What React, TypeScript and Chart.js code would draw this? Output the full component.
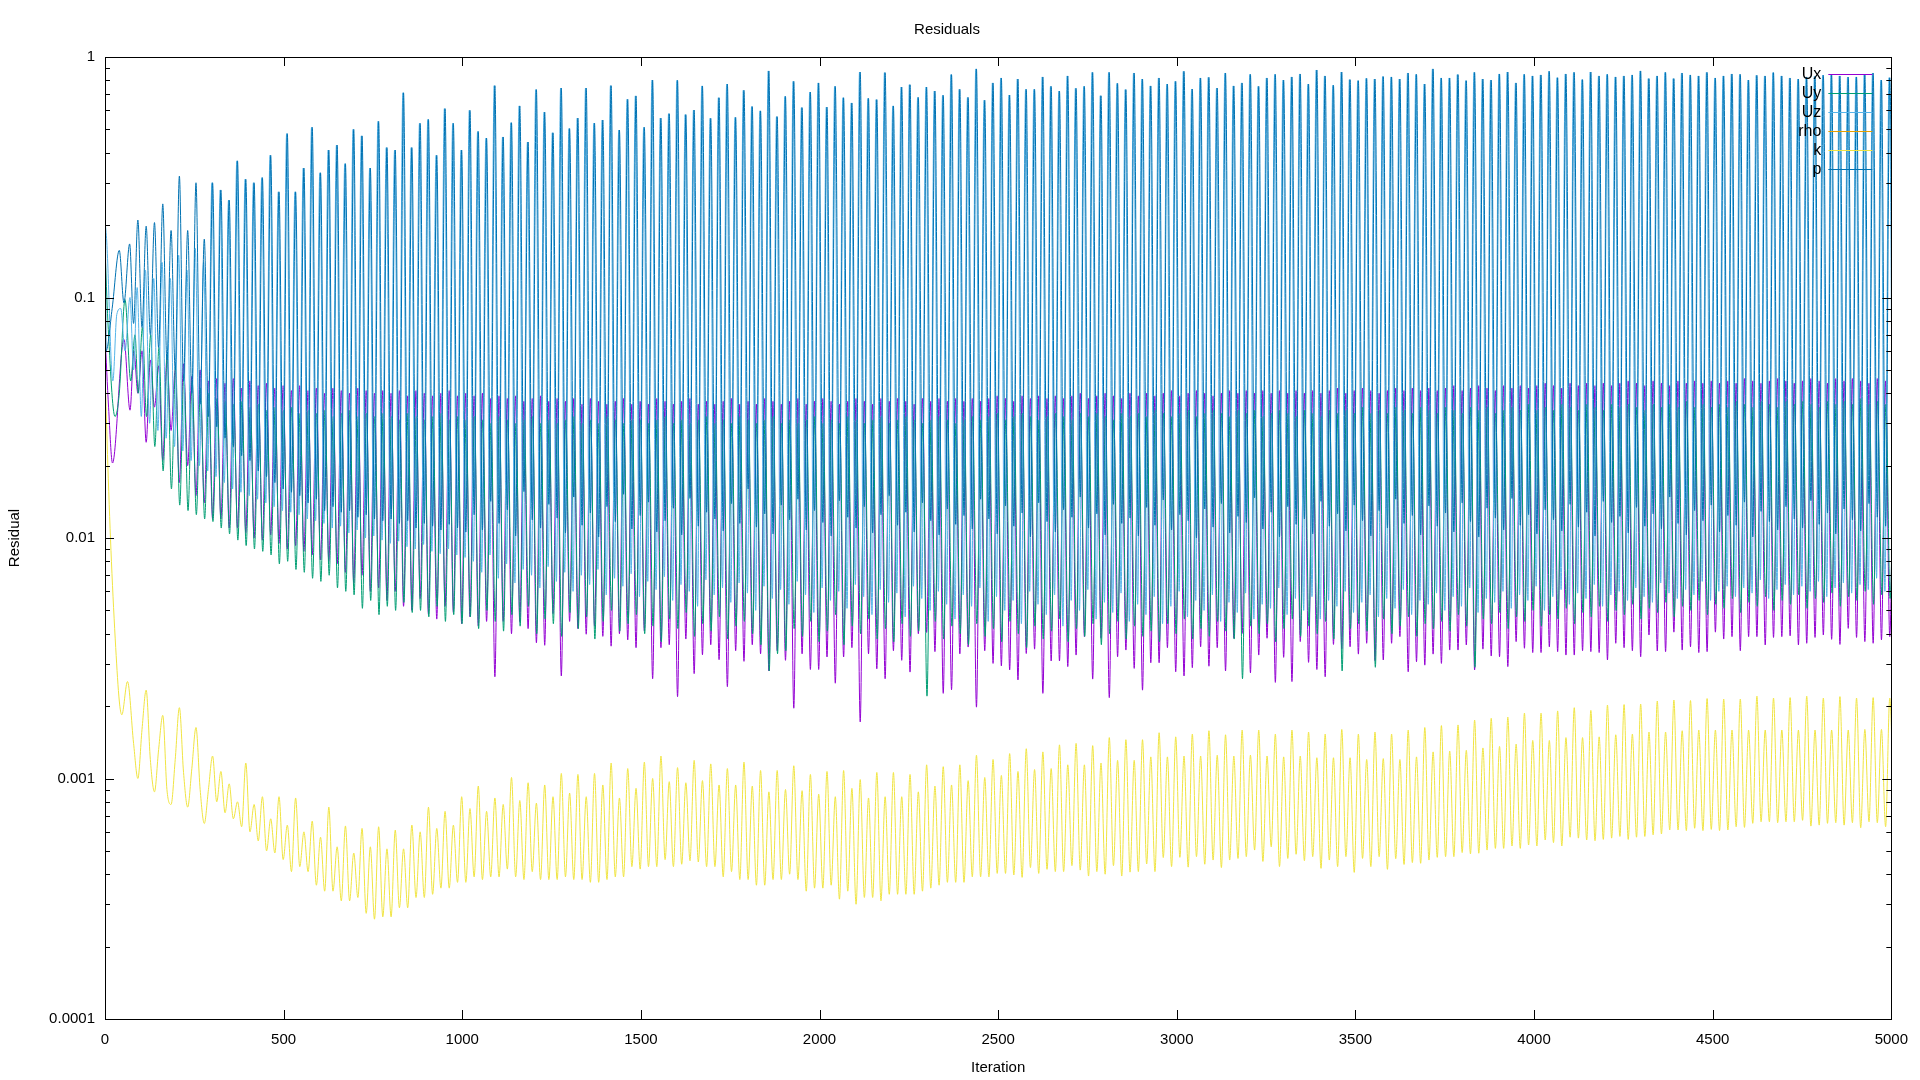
import { useEffect, useRef } from 'react';
import { Chart, registerables } from 'chart.js';

Chart.register(...registerables);

// Residual history. The run settles into a regular oscillation with a period of
// about 23.24 iterations, so after a short lead-in each series is stored as one value
// at every cycle mark and one value half a cycle later.
const CYCLE_START = 92;
const CYCLE_LEN = 23.24;

const xTickValues = [0, 500, 1000, 1500, 2000, 2500, 3000, 3500, 4000, 4500, 5000];
const yTickValues = [0.0001, 0.001, 0.01, 0.1, 1];

const seriesLabels = ['Ux', 'Uy', 'Uz', 'rho', 'k', 'p'];
const seriesColors = ['#9400d3', '#009e73', '#56b4e9', '#e69f00', '#f0e442', '#0072b2'];

// lead-in points [iteration, residual]
const pLead = [[0, 1.0], [3, 0.06], [20, 0.09], [40, 0.157], [53, 0.095], [69, 0.167], [80, 0.078]];
const uzLead = [[0, 0.21], [5, 0.17], [22, 0.045], [33, 0.085], [44, 0.09], [56, 0.06], [70, 0.1], [80, 0.05]];
const uxLead = [[0, 0.07], [10, 0.035], [21, 0.0205], [53, 0.067], [70, 0.034], [81, 0.06]];
const uyLead = [[0, 0.16], [8, 0.08], [28, 0.032], [40, 0.04], [56, 0.098], [72, 0.045], [84, 0.07]];
const kLead = [[0, 0.05], [8, 0.02], [18, 0.008], [30, 0.0035], [40, 0.0021], [47, 0.00184], [63, 0.00253], [80, 0.0014]];

// p: spike tops (at cycle marks) and lows (half a cycle later)
const pHi = [
  0.21, 0.198, 0.205, 0.245, 0.19, 0.32, 0.19, 0.30, 0.175, 0.30,
  0.28, 0.254, 0.37, 0.31, 0.30, 0.315, 0.39, 0.275, 0.48, 0.275,
  0.345, 0.51, 0.33, 0.41, 0.43, 0.36, 0.50, 0.47, 0.345, 0.54,
  0.42, 0.41, 0.71, 0.42, 0.53, 0.55, 0.39, 0.61, 0.53, 0.41,
  0.60, 0.49, 0.46, 0.76,
  0.465, 0.533, 0.626, 0.443, 0.732, 0.590, 0.484, 0.743, 0.504, 0.557,
  0.743, 0.531, 0.547, 0.760, 0.497, 0.667, 0.689, 0.510, 0.802, 0.557,
  0.581, 0.80, 0.576, 0.602, 0.758, 0.556, 0.677, 0.772, 0.561, 0.727,
  0.622, 0.597, 0.875, 0.565, 0.686, 0.792, 0.616, 0.715, 0.78, 0.619,
  0.755, 0.677, 0.644, 0.866, 0.673, 0.665, 0.861, 0.626, 0.75, 0.767,
  0.679, 0.75, 0.722, 0.693, 0.845, 0.734, 0.679, 0.892, 0.661, 0.78,
  0.818, 0.695, 0.81, 0.734, 0.734, 0.826, 0.755, 0.722, 0.834, 0.741,
  0.755, 0.863, 0.69, 0.863, 0.777, 0.732, 0.858, 0.81, 0.758, 0.818,
  0.772, 0.792, 0.872, 0.736,
  0.818, 0.823, 0.743, 0.858, 0.758, 0.78, 0.847, 0.755, 0.818, 0.847,
  0.802, 0.826, 0.85, 0.772, 0.883, 0.834, 0.763, 0.866, 0.805, 0.797,
  0.815, 0.81, 0.829, 0.826, 0.81, 0.858, 0.847, 0.772, 0.892, 0.818,
  0.818, 0.845, 0.797, 0.863, 0.81, 0.802, 0.85, 0.866, 0.78, 0.847,
  0.834, 0.842, 0.872, 0.82, 0.85, 0.863, 0.805, 0.866, 0.834, 0.847,
  0.826, 0.834, 0.842, 0.875, 0.813, 0.834, 0.863, 0.813, 0.858, 0.842,
  0.834, 0.863, 0.818, 0.834, 0.85, 0.847, 0.802, 0.839, 0.834, 0.861,
  0.834, 0.818, 0.81, 0.826, 0.83, 0.84, 0.847, 0.834, 0.825, 0.826,
  0.847, 0.858, 0.802, 0.82,
];
const pLo = [
  0.075, 0.070, 0.062, 0.055, 0.050, 0.045, 0.040, 0.036, 0.032, 0.029,
  0.026, 0.024, 0.022, 0.021, 0.019, 0.018, 0.017, 0.016, 0.0155, 0.015,
  0.014, 0.0145, 0.013, 0.0135, 0.0128, 0.013, 0.0122, 0.0125, 0.012, 0.0118,
  0.012, 0.0115, 0.0118, 0.011, 0.0115, 0.0112, 0.0108, 0.0114, 0.011, 0.0106,
  0.0125, 0.0108, 0.0142, 0.0115, 0.0131, 0.0102, 0.0156, 0.0119, 0.0110, 0.0138,
  0.0121, 0.0105, 0.0148, 0.0113, 0.0127, 0.0101, 0.0135, 0.0117, 0.0152, 0.0109,
  0.0124, 0.0141, 0.0106, 0.0118, 0.0133, 0.0103, 0.0146, 0.0112, 0.0128, 0.0120,
  0.0107, 0.0139, 0.0115, 0.0160, 0.0111, 0.0126, 0.0104, 0.0137, 0.0119, 0.0145,
  0.0108, 0.0130, 0.0116, 0.0102, 0.0143, 0.0122, 0.0110, 0.0135, 0.0105, 0.0125,
  0.0150, 0.0113, 0.0128, 0.0106, 0.0140, 0.0118, 0.0103, 0.0132, 0.0114, 0.0124,
  0.0109, 0.0145, 0.0120, 0.0104, 0.0136, 0.0112, 0.0127, 0.0101, 0.0140, 0.0117,
  0.0106, 0.0131, 0.0122, 0.0148, 0.0110, 0.0126, 0.0103, 0.0138, 0.0115, 0.0121,
  0.0102, 0.0134, 0.0113, 0.0144, 0.0108, 0.0125, 0.0118, 0.0100, 0.0132, 0.0111,
  0.0139, 0.0105, 0.0123, 0.0116, 0.0147, 0.0109, 0.0128, 0.0101, 0.0135, 0.0114,
  0.0120, 0.0104, 0.0142, 0.0112, 0.0126, 0.0107, 0.0137, 0.0118, 0.0102, 0.0130,
  0.0110, 0.0145, 0.0115, 0.0124, 0.0103, 0.0136, 0.0112, 0.0127, 0.0106, 0.0140,
  0.0117, 0.0101, 0.0133, 0.0121, 0.0108, 0.0146, 0.0113, 0.0125, 0.0104, 0.0131,
  0.0119, 0.0107, 0.0138, 0.0111, 0.0128, 0.0102, 0.0142, 0.0116, 0.0123, 0.0105,
  0.0134, 0.0112, 0.0126, 0.0109, 0.0148, 0.0115, 0.0103, 0.0130, 0.0118, 0.0137,
  0.0106, 0.0124, 0.0113, 0.0141, 0.0101, 0.0129, 0.0117, 0.0108, 0.0135, 0.0120,
  0.0110, 0.0143, 0.0114, 0.0127, 0.0104, 0.0132, 0.0119, 0.0107, 0.0139, 0.0122,
  0.0112, 0.0128,
];

// Uz spikes up with p (a little earlier); the first cycles stay lower
const uzHiEarly = [0.11, 0.13, 0.12, 0.14, 0.12, 0.15, 0.13, 0.16, 0.14];
const uzLo = [
  0.032, 0.030, 0.028, 0.026, 0.024, 0.023, 0.021, 0.020, 0.019, 0.018,
  0.017, 0.016, 0.0155, 0.015, 0.0145, 0.014, 0.0135, 0.013, 0.0128, 0.0125,
  0.012, 0.0118, 0.0115, 0.011, 0.0112, 0.0105, 0.0108, 0.010, 0.0102, 0.0098,
  0.0095, 0.0097, 0.0092, 0.009, 0.0094, 0.0088, 0.0086, 0.009, 0.0085, 0.0083,
  0.0080, 0.0072, 0.0085, 0.0068, 0.0078, 0.0065, 0.0074, 0.0070, 0.0062, 0.0076,
  0.0066, 0.0072, 0.0060, 0.0070, 0.0064, 0.0074, 0.0058, 0.0068, 0.0063, 0.0071,
  0.0057, 0.0066, 0.0061, 0.0069, 0.0055, 0.0064, 0.0060, 0.0052, 0.0067, 0.0058,
  0.0062, 0.0054, 0.0065, 0.0059, 0.0050, 0.0063, 0.0056, 0.0061, 0.0053, 0.0066,
  0.0058, 0.0049, 0.0062, 0.0055, 0.0060, 0.0051, 0.0064, 0.0057, 0.0048, 0.0061,
  0.0054, 0.0059, 0.0047, 0.0063, 0.0056, 0.0050, 0.0060, 0.0053, 0.0046, 0.0058,
  0.0052, 0.0062, 0.0045, 0.0057, 0.0050, 0.0055, 0.0044, 0.0060, 0.0053, 0.0048,
  0.0058, 0.0043, 0.0055, 0.0050, 0.0061, 0.0046, 0.0054, 0.0049, 0.0059, 0.0045,
  0.0053, 0.0048, 0.0057, 0.0044, 0.0052, 0.0060, 0.0047, 0.0055, 0.0050, 0.0058,
  0.0045, 0.0054, 0.0049, 0.0059, 0.0046, 0.0053, 0.0051, 0.0062, 0.0048, 0.0056,
  0.0050, 0.0057, 0.0046, 0.0055, 0.0052, 0.0060, 0.0049, 0.0054, 0.0058, 0.0047,
  0.0056, 0.0051, 0.0061, 0.0048, 0.0055, 0.0053, 0.0059, 0.0050, 0.0057, 0.0052,
  0.0062, 0.0049, 0.0056, 0.0054, 0.0060, 0.0051, 0.0058, 0.0055, 0.0063, 0.0050,
  0.0057, 0.0061, 0.0053, 0.0059, 0.0056, 0.0064, 0.0052, 0.0058, 0.0060, 0.0055,
  0.0062, 0.0057, 0.0054, 0.0065, 0.0059, 0.0056, 0.0061, 0.0058, 0.0066, 0.0055,
  0.0060, 0.0063, 0.0057, 0.0062, 0.0059, 0.0067, 0.0056, 0.0061, 0.0064, 0.0058,
  0.0063, 0.0060, 0.0066, 0.0057, 0.0062, 0.0065, 0.0059, 0.0064, 0.0061, 0.0068,
  0.0060, 0.0063,
];

// Ux: sharp lows at the cycle marks, tops half a cycle later
const uxLo = [
  0.040, 0.025, 0.035, 0.021, 0.028, 0.017, 0.020, 0.015, 0.014, 0.012,
  0.012, 0.011, 0.011, 0.0105, 0.010, 0.0098, 0.0103, 0.0095, 0.009, 0.0093,
  0.0088, 0.0085, 0.0081, 0.008, 0.0078, 0.0072, 0.0065, 0.007, 0.006, 0.0062,
  0.0055, 0.006, 0.0052, 0.005, 0.0056, 0.0048, 0.0046, 0.0052, 0.0049, 0.0044,
  0.0047, 0.0043, 0.0045, 0.00265, 0.0045, 0.0040, 0.00449, 0.0042, 0.00367, 0.00358,
  0.00485, 0.00267, 0.0045, 0.0042, 0.00398, 0.0043, 0.0039, 0.00355, 0.0040, 0.00377,
  0.0035, 0.0041, 0.0026, 0.0035, 0.0036, 0.00219, 0.0038, 0.00273, 0.00327, 0.0036,
  0.00312, 0.00241, 0.0034, 0.00307, 0.0036, 0.0033, 0.0028, 0.0034, 0.0031, 0.00196,
  0.0033, 0.00284, 0.00284, 0.0032, 0.00249, 0.0032, 0.0035, 0.00172, 0.0033, 0.00286,
  0.0026, 0.0034, 0.0031, 0.00277, 0.004, 0.00405, 0.00337, 0.00226, 0.00234, 0.0033,
  0.00352, 0.00198, 0.0034,
  0.00301, 0.00294, 0.00283, 0.00257, 0.00331, 0.00345, 0.00226, 0.00308, 0.00308, 0.00292,
  0.00326, 0.00389, 0.00259, 0.00383, 0.00217, 0.00321, 0.00342, 0.00287, 0.00233, 0.00303,
  0.00303, 0.0035, 0.00278, 0.00267, 0.00289, 0.00353, 0.00293, 0.0035, 0.0028, 0.00383,
  0.00401, 0.00275, 0.00326, 0.00383, 0.00251, 0.00319, 0.00253, 0.00371, 0.00304, 0.00284,
  0.00265, 0.00361, 0.00346, 0.00353, 0.00329, 0.00365, 0.00309, 0.00311, 0.00365, 0.00389,
  0.00278, 0.00306, 0.00296, 0.00329, 0.00301, 0.00342, 0.00342, 0.00359, 0.00283, 0.00345,
  0.00323, 0.00321, 0.00292, 0.00371, 0.00348, 0.00334, 0.00334, 0.00353, 0.00337, 0.00326,
  0.00326, 0.0034, 0.00337, 0.00334, 0.00311, 0.00365, 0.0035, 0.0034, 0.00321, 0.00395,
  0.00339, 0.00337, 0.00406, 0.00342, 0.00353, 0.00334, 0.00337, 0.00406, 0.0038, 0.00389,
  0.0034, 0.00389, 0.00389, 0.00359, 0.00386, 0.00389, 0.00392, 0.00359, 0.00365, 0.00386,
  0.00395, 0.00379, 0.00361, 0.00421, 0.00386, 0.00371, 0.00365, 0.00377, 0.00389,
];
const uxHi = [
  0.060, 0.055, 0.052, 0.056, 0.050, 0.053, 0.047, 0.050, 0.045, 0.046,
  0.044, 0.046, 0.042, 0.045, 0.043, 0.044, 0.042, 0.043, 0.041, 0.043,
  0.041, 0.042, 0.040, 0.042, 0.041, 0.040, 0.042, 0.041, 0.040, 0.041,
  0.040, 0.041, 0.039, 0.041, 0.040, 0.039, 0.040, 0.041, 0.039, 0.040,
  0.039, 0.040, 0.038, 0.039, 0.038, 0.039, 0.037, 0.038, 0.039, 0.037,
  0.038, 0.037, 0.038, 0.036, 0.038, 0.037, 0.036, 0.037, 0.038, 0.036,
  0.037, 0.036, 0.038, 0.037, 0.036, 0.037, 0.038, 0.036, 0.037, 0.036,
  0.037, 0.038, 0.036, 0.037, 0.036, 0.038, 0.037, 0.036, 0.037, 0.038,
  0.036, 0.037, 0.038, 0.037, 0.036, 0.037, 0.038, 0.037, 0.036, 0.038,
  0.037, 0.038, 0.037, 0.036, 0.038, 0.037, 0.038, 0.037, 0.038, 0.037,
  0.038, 0.037, 0.038, 0.039, 0.038, 0.037, 0.039, 0.038, 0.039, 0.038,
  0.039, 0.038, 0.039, 0.040, 0.038, 0.039, 0.040, 0.039, 0.038, 0.040,
  0.039, 0.040, 0.039, 0.040, 0.041, 0.039, 0.040, 0.041, 0.040, 0.039,
  0.040, 0.041, 0.040, 0.041, 0.040, 0.041, 0.040, 0.041, 0.040, 0.041,
  0.040, 0.041, 0.040, 0.041, 0.042, 0.040, 0.041, 0.042, 0.041, 0.040,
  0.041, 0.042, 0.041, 0.042, 0.041, 0.042, 0.041, 0.042, 0.043, 0.041,
  0.042, 0.043, 0.042, 0.041, 0.043, 0.042, 0.043, 0.042, 0.043, 0.044,
  0.043, 0.042, 0.044, 0.043, 0.044, 0.043, 0.044, 0.043, 0.044, 0.045,
  0.044, 0.043, 0.045, 0.044, 0.043, 0.045, 0.044, 0.045, 0.044, 0.045,
  0.044, 0.045, 0.044, 0.046, 0.045, 0.044, 0.045, 0.046, 0.045, 0.044,
  0.045, 0.046, 0.045, 0.044, 0.046, 0.045, 0.046, 0.045, 0.044, 0.046,
  0.045, 0.046,
];

// Uy: lows just after the cycle marks, tops half a cycle later
const uyLo = [
  0.040, 0.032, 0.024, 0.019, 0.016, 0.0137, 0.013, 0.0125, 0.012, 0.0117,
  0.011, 0.0104, 0.0098, 0.0093, 0.009, 0.0088, 0.0085, 0.0078, 0.008, 0.0074,
  0.0072, 0.0068, 0.0066, 0.007, 0.0062, 0.006, 0.0058, 0.0051, 0.0055, 0.0048,
  0.0052, 0.005, 0.0054, 0.0049, 0.005, 0.0047, 0.0052, 0.0045, 0.0048, 0.0044,
  0.0047, 0.0042, 0.0050, 0.0045, 0.0041, 0.0048, 0.0043, 0.0052, 0.0040, 0.0046,
  0.0044, 0.0039, 0.0049, 0.0042, 0.0047, 0.0038, 0.0045, 0.0050, 0.0041, 0.0044,
  0.0048, 0.0040, 0.0043, 0.0037, 0.0046, 0.0042, 0.0049, 0.0039, 0.0044, 0.0041,
  0.0047, 0.0038, 0.0043, 0.0045, 0.0040, 0.0036, 0.0028, 0.0033, 0.0034, 0.0042,
  0.0039, 0.0045, 0.0037, 0.0041, 0.0048, 0.0036, 0.0043, 0.0040, 0.0046, 0.0038,
  0.0042, 0.0037, 0.0044, 0.0039, 0.0041, 0.0022, 0.0045, 0.0038, 0.0043, 0.0040,
  0.0036, 0.0044, 0.0039, 0.0042, 0.0037, 0.0045, 0.0040, 0.0035, 0.0043, 0.0038,
  0.0041, 0.0046, 0.0037, 0.0042, 0.0039, 0.0044, 0.0036, 0.0040, 0.0045, 0.0038,
  0.0043, 0.0039, 0.0041, 0.0037, 0.0044, 0.0040, 0.0046, 0.0038, 0.0042, 0.0039,
  0.0045, 0.0041, 0.0038, 0.0026, 0.0043, 0.0040, 0.0044, 0.0037, 0.0042, 0.0046,
  0.0039, 0.0043, 0.0040, 0.0045, 0.0038, 0.0028, 0.0042, 0.0044, 0.0041, 0.0029,
  0.0046, 0.0040, 0.0043, 0.0047, 0.0039, 0.0044, 0.0042, 0.0045, 0.0041, 0.0048,
  0.0043, 0.0029, 0.0046, 0.0044, 0.0049, 0.0042, 0.0047, 0.0045, 0.0050, 0.0043,
  0.0048, 0.0046, 0.0051, 0.0044, 0.0049, 0.0047, 0.0052, 0.0045, 0.0050, 0.0048,
  0.0053, 0.0046, 0.0051, 0.0049, 0.0054, 0.0047, 0.0052, 0.0050, 0.0055, 0.0048,
  0.0053, 0.0051, 0.0056, 0.0049, 0.0054, 0.0052, 0.0057, 0.0050, 0.0055, 0.0053,
  0.0058, 0.0051, 0.0056, 0.0054, 0.0059, 0.0052, 0.0057, 0.0055, 0.0060, 0.0053,
  0.0058, 0.0056,
];
const uyHi = [
  0.075, 0.070, 0.062, 0.058, 0.052, 0.048, 0.045, 0.042, 0.040, 0.038,
  0.037, 0.036, 0.037, 0.035, 0.036, 0.034, 0.035, 0.034, 0.035, 0.033,
  0.034, 0.033, 0.034, 0.032, 0.033, 0.034, 0.032, 0.033, 0.032, 0.033,
  0.032, 0.031, 0.033, 0.032, 0.031, 0.032, 0.033, 0.031, 0.032, 0.031,
  0.032, 0.031, 0.030, 0.032, 0.031, 0.030, 0.031, 0.032, 0.030, 0.031,
  0.030, 0.031, 0.032, 0.030, 0.031, 0.030, 0.032, 0.031, 0.030, 0.031,
  0.031, 0.030, 0.031, 0.032, 0.030, 0.031, 0.030, 0.031, 0.032, 0.030,
  0.031, 0.030, 0.032, 0.031, 0.030, 0.031, 0.032, 0.030, 0.031, 0.030,
  0.031, 0.032, 0.030, 0.031, 0.030, 0.032, 0.031, 0.030, 0.031, 0.032,
  0.030, 0.031, 0.032, 0.031, 0.030, 0.031, 0.032, 0.031, 0.030, 0.031,
  0.032, 0.031, 0.032, 0.033, 0.031, 0.032, 0.033, 0.032, 0.031, 0.032,
  0.033, 0.032, 0.031, 0.033, 0.032, 0.033, 0.032, 0.031, 0.033, 0.032,
  0.033, 0.032, 0.034, 0.033, 0.032, 0.033, 0.034, 0.032, 0.033, 0.034,
  0.033, 0.032, 0.034, 0.033, 0.034, 0.032, 0.033, 0.034, 0.033, 0.032,
  0.034, 0.033, 0.032, 0.034, 0.033, 0.034, 0.033, 0.035, 0.033, 0.034,
  0.033, 0.035, 0.034, 0.033, 0.035, 0.034, 0.033, 0.035, 0.034, 0.033,
  0.035, 0.034, 0.035, 0.033, 0.034, 0.035, 0.034, 0.036, 0.034, 0.035,
  0.034, 0.036, 0.035, 0.034, 0.036, 0.035, 0.034, 0.036, 0.035, 0.036,
  0.035, 0.034, 0.036, 0.035, 0.036, 0.035, 0.037, 0.035, 0.036, 0.035,
  0.036, 0.035, 0.037, 0.036, 0.035, 0.037, 0.036, 0.035, 0.037, 0.036,
  0.037, 0.036, 0.035, 0.037, 0.036, 0.037, 0.036, 0.038, 0.036, 0.037,
  0.036, 0.037,
];

// k: value at each cycle mark (big and small peaks alternate) and the low between
const kAtCycle = [
  0.00100, 0.00233, 0.00088, 0.00183, 0.00078, 0.00197, 0.00076, 0.00163, 0.00065, 0.00124,
  0.00107, 0.00095, 0.00080, 0.00116, 0.00078, 0.00084, 0.00068, 0.00084, 0.00064, 0.00083,
  0.00060, 0.000665, 0.00057, 0.00076, 0.00052, 0.000635, 0.00049, 0.00062, 0.00052, 0.00063,
  0.00051, 0.00061, 0.00051, 0.00064, 0.00060, 0.00076, 0.00062, 0.00073, 0.00064, 0.00084,
  0.00075, 0.00093, 0.00073, 0.00083, 0.00078, 0.00101, 0.00081, 0.00096, 0.00079, 0.00094,
  0.00084, 0.00105, 0.00087, 0.00104, 0.00084, 0.00105, 0.00094, 0.00116, 0.00083, 0.00110,
  0.00091, 0.00117, 0.00100, 0.00124, 0.00097, 0.00111, 0.00096, 0.00119, 0.00098, 0.00115,
  0.00094, 0.00110, 0.00094, 0.00117, 0.00093, 0.00108, 0.00088, 0.00108, 0.00090, 0.00113,
  0.00089, 0.00104, 0.00086, 0.00107, 0.00084, 0.00108, 0.00091, 0.00099, 0.00083, 0.00106,
  0.00084, 0.00106, 0.00084, 0.00104, 0.00088, 0.00114, 0.00093, 0.00112, 0.00094, 0.00114,
  0.00098, 0.00125, 0.00101, 0.00120, 0.00103,
  0.00127, 0.00107, 0.00133, 0.00109, 0.00129, 0.00110, 0.00138, 0.00114, 0.00140, 0.00114,
  0.00137, 0.00116, 0.00148, 0.00119, 0.00145, 0.00119, 0.00145, 0.00123, 0.00155, 0.00123,
  0.00149, 0.00124, 0.00153, 0.00124, 0.00158, 0.00125, 0.00152, 0.00124, 0.00159, 0.00125,
  0.00159, 0.00124, 0.00153, 0.00123, 0.00159, 0.00124, 0.00156, 0.00122, 0.00153, 0.00122,
  0.00160, 0.00122, 0.00153, 0.00120, 0.00156, 0.00121, 0.00153, 0.00120, 0.00159, 0.00123,
  0.00163, 0.00129, 0.00166, 0.00130, 0.00167, 0.00131, 0.00175, 0.00134, 0.00178, 0.00136,
  0.00180, 0.00139, 0.00187, 0.00144, 0.00187, 0.00144, 0.00191, 0.00148, 0.00197, 0.00148,
  0.00192, 0.00149, 0.00202, 0.00152, 0.00203, 0.00153, 0.00204, 0.00156, 0.00210, 0.00156,
  0.00212, 0.00158, 0.00211, 0.00159, 0.00215, 0.00159, 0.00214, 0.00159, 0.00214, 0.00159,
  0.00220, 0.00159, 0.00216, 0.00159, 0.00217, 0.00159, 0.00220, 0.00159, 0.00216, 0.00159,
  0.00219, 0.00159, 0.00216, 0.00160, 0.00217, 0.00160, 0.00216,
];
const kAtHalf = [
  0.00160, 0.00120, 0.00132, 0.00090, 0.00120, 0.00106, 0.00110, 0.00090, 0.00090, 0.00080,
  0.00072, 0.00068, 0.00063, 0.00060, 0.00055, 0.00050, 0.00049, 0.00046, 0.00041, 0.00043,
  0.00041, 0.00036, 0.00034, 0.00034, 0.00031, 0.00031, 0.00032, 0.000275, 0.00026, 0.000266,
  0.000266, 0.00029, 0.00029, 0.00032, 0.00032, 0.00033, 0.00035, 0.00035, 0.00037, 0.00037,
  0.00039, 0.00038, 0.00039, 0.00039, 0.00042, 0.00039, 0.00038, 0.00041, 0.00038, 0.00038,
  0.00038, 0.00039, 0.00038, 0.00038, 0.00037, 0.00037, 0.00038, 0.00039, 0.00039, 0.00043,
  0.00042, 0.00043, 0.00043, 0.00046, 0.00043, 0.00044, 0.000455, 0.00045, 0.00043, 0.00043,
  0.00039, 0.00041, 0.00038, 0.00038, 0.00036, 0.00036, 0.00038, 0.00038, 0.00040, 0.00038,
  0.00034, 0.00035, 0.00035, 0.00036, 0.000315, 0.00034, 0.00030, 0.00032, 0.00032, 0.00031,
  0.00033, 0.00033, 0.00033, 0.00033, 0.00034, 0.00035, 0.00036, 0.00037, 0.00037, 0.00037,
  0.00039, 0.00039, 0.00039,
  0.000403, 0.000403, 0.000397, 0.000388, 0.000426, 0.000403, 0.000419, 0.00041, 0.00041, 0.000434,
  0.000416, 0.000393, 0.00041, 0.0004, 0.000434, 0.000393, 0.000408, 0.00041, 0.000441, 0.00041,
  0.000469, 0.00043, 0.00047, 0.000428, 0.000473, 0.00044, 0.000458, 0.000426, 0.000458, 0.000465,
  0.000473, 0.000504, 0.000452, 0.00052, 0.00043, 0.000465, 0.000484, 0.000455, 0.000473, 0.000423,
  0.000458, 0.00043, 0.000473, 0.000407, 0.000465, 0.00043, 0.000473, 0.000419, 0.000464, 0.000439,
  0.000447, 0.000444, 0.000458, 0.00047, 0.000473, 0.000473, 0.000492, 0.000486, 0.000489, 0.000504,
  0.000512, 0.000512, 0.000524, 0.000512, 0.000529, 0.000524, 0.000555, 0.000541, 0.000524, 0.00057,
  0.000565, 0.000555, 0.000551, 0.000558, 0.000565, 0.000574, 0.000558, 0.00057, 0.000574, 0.000583,
  0.000588, 0.000611, 0.000611, 0.000607, 0.000621, 0.000607, 0.000614, 0.000607, 0.000611, 0.00063,
  0.000626, 0.000651, 0.000661, 0.000661, 0.000655, 0.000661, 0.000661, 0.00067, 0.000634, 0.00064,
  0.000651, 0.000655, 0.00064, 0.000655, 0.000624, 0.000661, 0.000655, 0.00063, 0.00065,
];

const uzHi = [...uzHiEarly, ...pHi.slice(uzHiEarly.length)];

type Pt = { x: number; y: number };

function buildSeries(lead: number[][], atCycle: number[], atHalf: number[], shift: number): Pt[] {
  const pts: Pt[] = lead.map(([x, y]) => ({ x, y }));
  atCycle.forEach((v, i) => {
    const mark = CYCLE_START + i * CYCLE_LEN + shift;
    pts.push({ x: mark, y: v });
    if (i < atHalf.length) pts.push({ x: mark + CYCLE_LEN / 2, y: atHalf[i] });
  });
  return pts;
}

const FONT = { family: '"Liberation Sans", Arial, sans-serif', size: 15 };

// gnuplot-like frame: closed border, inward (mirrored) ticks and key inside the top right
const gnuplotFrame = {
  id: 'gnuplotFrame',
  afterDatasetsDraw(chart: Chart) {
    const { ctx, chartArea } = chart;
    const { left, right, top, bottom } = chartArea;
    const xs = chart.scales.x;
    const ys = chart.scales.y;
    ctx.save();
    ctx.strokeStyle = '#000';
    ctx.lineWidth = 1;
    ctx.beginPath();
    xTickValues.forEach((v) => {
      const px = Math.round(xs.getPixelForValue(v)) + 0.5;
      ctx.moveTo(px, bottom);
      ctx.lineTo(px, bottom - 9);
      ctx.moveTo(px, top);
      ctx.lineTo(px, top + 9);
    });
    yTickValues.forEach((d, di) => {
      const py = Math.round(ys.getPixelForValue(d)) + 0.5;
      ctx.moveTo(left, py);
      ctx.lineTo(left + 9, py);
      ctx.moveTo(right, py);
      ctx.lineTo(right - 9, py);
      if (di < yTickValues.length - 1) {
        for (let m = 2; m <= 9; m++) {
          const pm = Math.round(ys.getPixelForValue(d * m)) + 0.5;
          ctx.moveTo(left, pm);
          ctx.lineTo(left + 5, pm);
          ctx.moveTo(right, pm);
          ctx.lineTo(right - 5, pm);
        }
      }
    });
    ctx.stroke();
    ctx.strokeRect(Math.round(left) + 0.5, Math.round(top) + 0.5, Math.round(right - left), Math.round(bottom - top));

    // key
    ctx.font = `16px ${FONT.family}`;
    ctx.textAlign = 'right';
    ctx.textBaseline = 'middle';
    chart.data.datasets.forEach((ds, i) => {
      const y = Math.round(top + 17 + i * 19) + 0.5;
      ctx.fillStyle = '#000';
      ctx.fillText(String(ds.label), right - 70, y);
      ctx.strokeStyle = String(ds.borderColor);
      ctx.beginPath();
      ctx.moveTo(right - 63, y);
      ctx.lineTo(right - 19, y);
      ctx.stroke();
    });
    ctx.restore();
  },
};

export default function App() {
  const canvasRef = useRef<HTMLCanvasElement>(null);
  const chartRef = useRef<Chart | null>(null);

  useEffect(() => {
    document.body.style.margin = '0';
    if (!canvasRef.current) {
      return;
    }
    if (chartRef.current) {
      chartRef.current.destroy();
    }

    const seriesData = [
      buildSeries(uxLead, uxLo, uxHi, 0),
      buildSeries(uyLead, uyLo, uyHi, 1),
      buildSeries(uzLead, uzHi, uzLo, -2),
      [] as Pt[],
      buildSeries(kLead, kAtCycle, kAtHalf, 0),
      buildSeries(pLead, pHi, pLo, 0),
    ];

    chartRef.current = new Chart(canvasRef.current, {
      type: 'line',
      data: {
        datasets: seriesLabels.map((label, i) => ({
          label,
          data: seriesData[i],
          borderColor: seriesColors[i],
          backgroundColor: seriesColors[i],
          borderWidth: 1,
          pointRadius: 0,
          cubicInterpolationMode: 'monotone' as const,
          fill: false,
          order: seriesLabels.length - 1 - i,
        })),
      },
      options: {
        animation: false,
        responsive: false,
        devicePixelRatio: 1,
        layout: { padding: { left: 0, right: 26, top: 0, bottom: 0 } },
        plugins: {
          legend: { display: false },
          tooltip: { enabled: false },
          title: {
            display: true,
            text: 'Residuals',
            color: '#000',
            font: { ...FONT, weight: 'normal' },
            padding: { top: 21, bottom: 18 },
          },
        },
        scales: {
          x: {
            type: 'linear',
            min: 0,
            max: 5000,
            afterBuildTicks: (scale) => {
              scale.ticks = xTickValues.map((value) => ({ value }));
            },
            afterFit: (scale) => {
              scale.height = 61;
            },
            ticks: {
              color: '#000',
              font: FONT,
              padding: 12,
              maxRotation: 0,
              autoSkip: false,
              callback: (value) => String(value),
            },
            grid: { display: false, drawTicks: false },
            border: { display: false },
            title: { display: true, text: 'Iteration', color: '#000', font: FONT, padding: { top: 0, bottom: 3 } },
          },
          y: {
            type: 'logarithmic',
            min: 0.0001,
            max: 1,
            afterBuildTicks: (scale) => {
              scale.ticks = yTickValues.map((value) => ({ value }));
            },
            afterFit: (scale) => {
              scale.width = 105;
            },
            ticks: {
              color: '#000',
              font: FONT,
              padding: 10,
              autoSkip: false,
              callback: (value) => String(value),
            },
            grid: { display: false, drawTicks: false },
            border: { display: false },
            title: { display: true, text: 'Residual', color: '#000', font: FONT, padding: { top: 6, bottom: 0 } },
          },
        },
      },
      plugins: [gnuplotFrame],
    });

    return () => {
      if (chartRef.current) {
        chartRef.current.destroy();
        chartRef.current = null;
      }
    };
  }, []);

  return (
    <div style={{ width: 1920, height: 1080, background: '#fff' }}>
      <canvas ref={canvasRef} width={1920} height={1080} style={{ width: 1920, height: 1080 }} />
    </div>
  );
}
